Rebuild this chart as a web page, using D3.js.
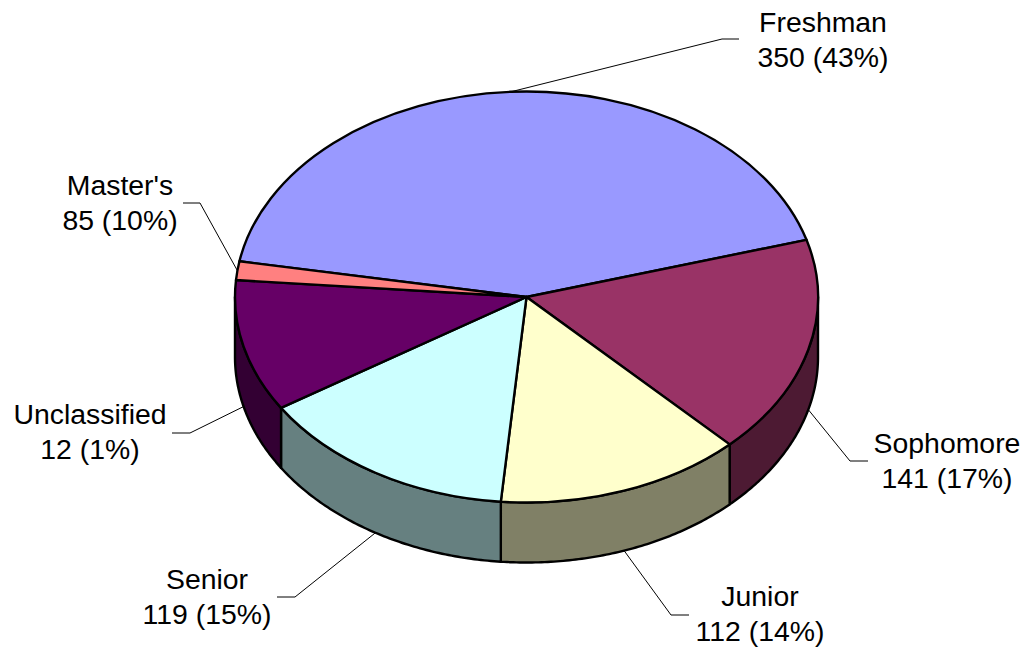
<!DOCTYPE html>
<html>
<head>
<meta charset="utf-8">
<style>
html,body{margin:0;padding:0;background:#fff}
svg{display:block}
text{font-family:"Liberation Sans",Arial,sans-serif;font-size:28.4px;fill:#000;text-anchor:middle}
</style>
<script src="https://cdn.jsdelivr.net/npm/d3@7"></script>
</head>
<body>
<svg id="chart" width="1028" height="649"></svg>
<script>
// Data, clockwise from the Freshman slice
const sliceValues = [350, 141, 112, 119, 85, 12];
const sliceColors = ["#9999ff", "#993366", "#ffffcc", "#ccffff", "#660066", "#ff8080"];
const sideColors  = ["#4d4d80", "#4d1a33", "#808066", "#668080", "#330033", "#804040"];
// Label text as printed in the source, by slice (the source's labels are shifted relative to the slices)
const labelNames  = ["Freshman", "Sophomore", "Junior", "Senior", "Unclassified", "Master's"];
const labelValues = ["350 (43%)", "141 (17%)", "112 (14%)", "119 (15%)", "12 (1%)", "85 (10%)"];

// Layout
const cx = 526.5, cy = 297, rx = 291.5, ry = 205.5, depth = 60;
const startDeg = -80;
const labelLayout = [
  {tx: 823, ty: 32,  ex: 722, ey: 39,  endx: 739, endy: 39},
  {tx: 947, ty: 453, ex: 850, ey: 461, endx: 868, endy: 461},
  {tx: 760, ty: 606, ex: 671, ey: 615, endx: 689, endy: 615},
  {tx: 207, ty: 589, ex: 295, ey: 597, endx: 277, endy: 597},
  {tx: 90,  ty: 424, ex: 190, ey: 433, endx: 172, endy: 433},
  {tx: 120, ty: 195, ex: 200, ey: 203, endx: 183, endy: 203}
];

const svg = d3.select("#chart");
const rad = d => d * Math.PI / 180;

const pie = d3.pie().sort(null)
  .startAngle(rad(startDeg))
  .endAngle(rad(startDeg + 360));
const slices = pie(sliceValues).map((d, i) => ({...d, i}));

const xs = d3.scaleLinear().domain([-1, 1]).range([cx - rx, cx + rx]);
const ys = d3.scaleLinear().domain([-1, 1]).range([cy - ry, cy + ry]);
const px = a => xs(Math.sin(a));
const py = a => ys(-Math.cos(a));

// Side wall: only the front half of the rim (90deg..270deg) is visible
const sideLine = d3.line().x(d => d[0]).y(d => d[1]);
const sideG = svg.append("g");
slices.forEach(s => {
  const lo = Math.max(s.startAngle, Math.PI / 2), hi = Math.min(s.endAngle, 3 * Math.PI / 2);
  if (hi <= lo) return;
  const samples = d3.range(0, 81).map(k => lo + (hi - lo) * k / 80);
  const pts = samples.map(a => [px(a), py(a)])
    .concat(samples.slice().reverse().map(a => [px(a), py(a) + depth]));
  sideG.append("path")
    .attr("d", sideLine(pts) + "Z")
    .attr("fill", sideColors[s.i])
    .attr("stroke", "#000")
    .attr("stroke-width", 2.4)
    .attr("stroke-linejoin", "round");
});

// Top face: circular pie squashed into an ellipse
const arc = d3.arc().innerRadius(0).outerRadius(rx);
svg.append("g")
  .attr("transform", `translate(${cx},${cy}) scale(1,${ry / rx})`)
  .selectAll("path")
  .data(slices)
  .join("path")
  .attr("d", arc)
  .attr("fill", d => sliceColors[d.i])
  .attr("stroke", "#000")
  .attr("stroke-width", 2.4)
  .attr("stroke-linejoin", "round")
  .attr("vector-effect", "non-scaling-stroke");

// Leader lines start at the middle of each slice's rim
const leaderG = svg.append("g");
slices.forEach(s => {
  const m = (s.startAngle + s.endAngle) / 2;
  const front = m > Math.PI / 2 && m < 3 * Math.PI / 2;
  const L = labelLayout[s.i];
  const pts = [[px(m), py(m) + (front ? depth : 0)], [L.ex, L.ey], [L.endx, L.endy]];
  leaderG.append("path")
    .attr("d", sideLine(pts))
    .attr("fill", "none")
    .attr("stroke", "#000")
    .attr("stroke-width", 1);
});

// Labels
const labelG = svg.append("g");
slices.forEach(s => {
  const L = labelLayout[s.i];
  const t = labelG.append("text").attr("x", L.tx).attr("y", L.ty);
  t.append("tspan").attr("x", L.tx).text(labelNames[s.i]);
  t.append("tspan").attr("x", L.tx).attr("dy", 34.5).text(labelValues[s.i]);
});
</script>
</body>
</html>
